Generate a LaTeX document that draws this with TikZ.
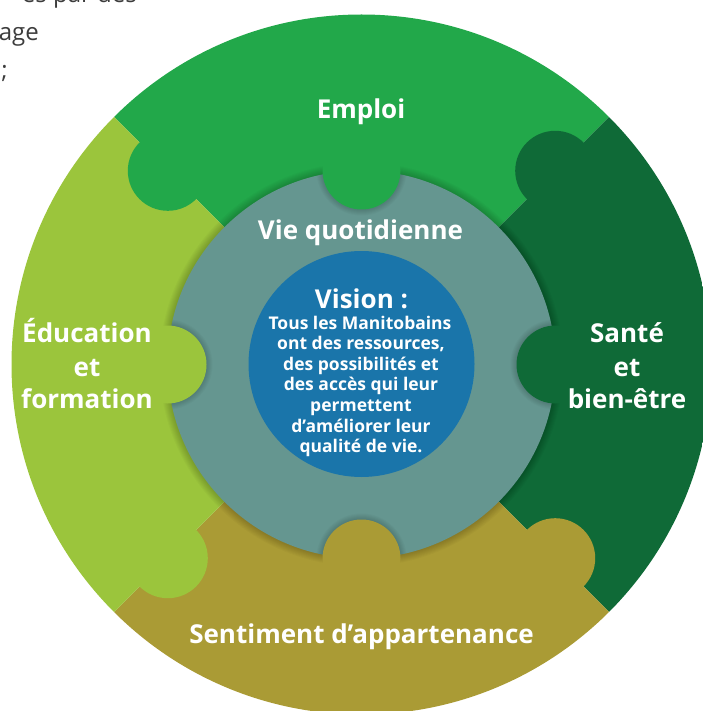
\documentclass[tikz,border=0pt]{standalone}
\usepackage{fontspec}
\setmainfont{Open Sans}
\definecolor{cEmploi}{HTML}{22A84A}
\definecolor{cSante}{HTML}{0F6A37}
\definecolor{cEdu}{HTML}{9BC53C}
\definecolor{cSent}{HTML}{AA9B35}
\definecolor{cTeal}{HTML}{659690}
\definecolor{cBlue}{HTML}{1A75AA}
\definecolor{cGray}{HTML}{3C3C3C}
\begin{document}
\begin{tikzpicture}[x=1pt,y=-1pt,
  head/.style={font=\fontsize{26}{30}\selectfont\bfseries, text=white, anchor=base, inner sep=0pt},
  body/.style={font=\fontsize{17.5}{20}\selectfont\bfseries, text=white, anchor=base, inner sep=0pt},
  frag/.style={font=\fontsize{24}{30}\selectfont, text=cGray, anchor=base east, inner sep=0pt},
  shade/.style={fill=black, opacity=0.025}]
\useasboundingbox (0,0) rectangle (702,711);
\coordinate (C) at (361.5,364.5);
% outer ring pieces
\begin{scope}
  \clip (C) circle (350pt);
  \fill[cEmploi] (C) -- ++(-400,-400) -- ++(800,0) -- cycle;
  \fill[cSante]  (C) -- ++(400,-400) -- ++(0,800) -- cycle;
  \fill[cSent]   (C) -- ++(400,400) -- ++(-800,0) -- cycle;
  \fill[cEdu]    (C) -- ++(-400,400) -- ++(0,-800) -- cycle;
  % tabs between outer pieces
  \fill[cEmploi] (C) ++(-193.7,-193.7) circle (40pt);
  \fill[cSante]  (C) ++(193.7,-193.7) circle (40pt);
  \fill[cEdu]    (C) ++(-193.7,193.7) circle (40pt);
  \fill[cSent]   (C) ++(193.7,193.7) circle (40pt);
\end{scope}
% soft shadow of the inner disc
\foreach \i in {1,...,8} { \fill[shade] (C) circle[radius=194pt+\i pt]; }
% inner teal disc
\fill[cTeal] (C) circle (194pt);
\begin{scope}
  \clip (C) circle (194pt);
  \foreach \p in {(361.5,170.5),(361.5,558.5),(167.5,364.5),(555.5,364.5)} {
    \foreach \i in {1,...,6} { \fill[shade] \p circle[radius=39pt+\i pt]; }
  }
\end{scope}
% tabs of outer pieces into the inner disc
\fill[cEmploi] (361.5,170.5) circle (39pt);
\fill[cSent]   (361.5,558.5) circle (39pt);
\fill[cEdu]    (167.5,364.5) circle (39pt);
\fill[cSante]  (555.5,364.5) circle (39pt);
% central disc
\fill[cBlue] (361.5,364) circle (113pt);
% labels
\node[head] (emploi) at (361,119) {Emploi};
\node[head] (vie) at (360.5,240) {Vie quotidienne};
\node[head] (vision) at (361.5,308) {Vision :};
\node[body] (v1) at (360,329) {Tous les Manitobains};
\node[body] (v2) at (361,349.6) {ont des ressources,};
\node[body] (v3) at (361,370.2) {des possibilités et};
\node[body] (v4) at (361,390.8) {des accès qui leur};
\node[body] (v5) at (361,411.4) {permettent};
\node[body] (v6) at (361,432) {d’améliorer leur};
\node[body] (v7) at (361,452.6) {qualité de vie.};
\node[head] (edu1) at (87,342.7) {Éducation};
\node[head] (edu2) at (87,376) {et};
\node[head] (edu3) at (87,408.3) {formation};
\node[head] (san1) at (627,342.7) {Santé};
\node[head] (san2) at (627,376) {et};
\node[head] (san3) at (627,408.3) {bien-être};
\node[head] (sent) at (361.5,643) {Sentiment d’appartenance};
% cut-off paragraph fragments at top left
\node[frag] (f1) at (137,3) {es par des};
\node[frag] (f2) at (39,41) {age};
\node[frag] (f3) at (8,79) {;};
\end{tikzpicture}
\end{document}
